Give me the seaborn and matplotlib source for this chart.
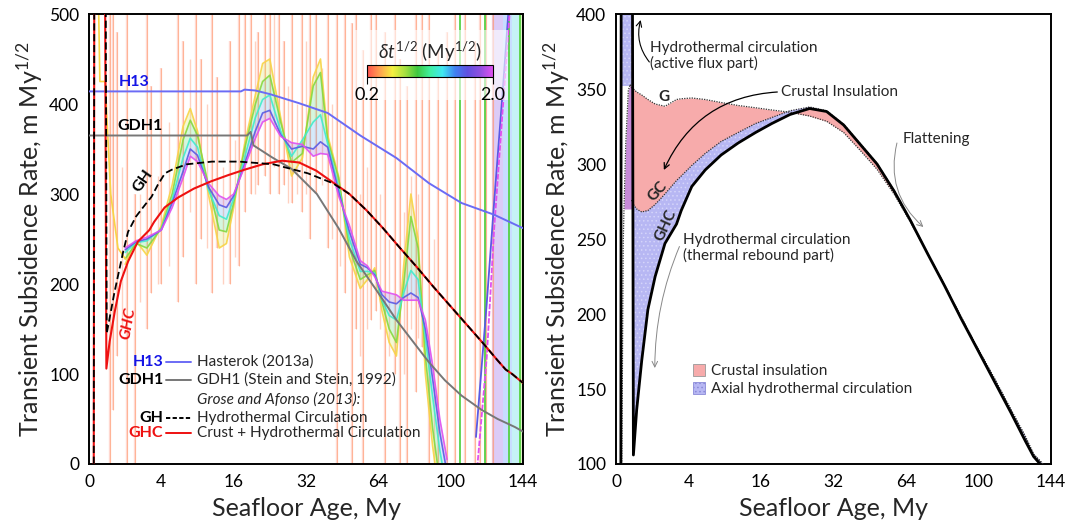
import numpy as np
import matplotlib
matplotlib.use("Agg")
import matplotlib.pyplot as plt
import seaborn as sns
from matplotlib.colors import LinearSegmentedColormap, Normalize
from matplotlib.cm import ScalarMappable
from matplotlib.patches import Patch, Rectangle
from matplotlib.ticker import MultipleLocator, FixedLocator, FixedFormatter

# ---------------------------------------------------------------------------
# Axis: square root of seafloor age (My^1/2); labels show the age in My
# ---------------------------------------------------------------------------
AGE_TICK_POS = [0, 2, 4, 6, 8, 10, 12]
AGE_TICK_LABELS = ["0", "4", "16", "32", "64", "100", "144"]

# ---------------------------------------------------------------------------
# Left panel: reference models
# ---------------------------------------------------------------------------
H13_U = [0.0, 4.2, 4.3, 4.6, 5.0, 5.8, 6.6, 7.5, 8.5, 9.4, 10.3, 11.2, 12.0]
H13_V = [414, 414, 416, 415, 411, 401, 390, 365, 340, 312, 290, 277, 262]

GDH1_U = [0.0, 4.37, 4.47, 4.55, 5.05, 5.6, 6.3, 6.9, 7.4, 8.0, 8.5, 8.92,
          9.4, 9.84, 10.3, 10.86, 11.3, 11.78, 12.0]
GDH1_V = [365, 365, 369, 354, 341, 328, 300, 262, 225, 190, 160, 138,
          113, 93, 76, 60, 50, 41, 36]

GH_U = [0.13, 0.15, 0.45, 0.49, 0.7, 0.94, 1.08, 1.3, 1.55, 1.73, 1.9, 2.1,
        2.29, 2.7, 3.4, 4.15, 5.1, 6.05, 6.74, 7.2, 7.67, 8.13, 8.6, 9.06,
        9.52, 9.98, 10.44, 10.9, 11.3, 11.52, 11.7, 12.0]
GH_V = [-60, 700, 700, 145, 190, 235, 258, 275, 288, 297, 310, 323,
        327, 333, 336, 336, 333, 323, 312, 300, 282, 262, 240, 219,
        197, 176, 155, 134, 115, 105, 100, 90]

# Crust + hydrothermal circulation (GHC), shared by both panels
GHC_EARLY_U = [0.13, 0.15]
GHC_EARLY_V = [-60, 700]
SQRT_AGE = [0.43, 0.48, 0.57, 0.71, 0.88, 1.08, 1.35, 1.67, 1.8, 2.09, 2.46,
            2.9, 3.37, 3.85, 4.3, 4.8, 5.34, 5.81, 6.28, 6.74, 7.2, 7.67,
            8.13, 8.6, 9.06, 9.52, 9.98, 10.44, 10.9, 11.3, 11.52, 11.7, 12.0]
GHC = [700, 106, 136, 169, 203, 225, 247, 260, 269, 285, 296,
       306, 314, 321, 327, 333, 337, 335, 326, 313, 300, 282,
       262, 240, 219, 197, 176, 155, 134, 115, 105, 100, 90]
# Crust only (GC) and plain model (G), right panel
GC = [276, 273, 270, 268, 269, 273, 280, 289, 292, 299, 307,
      315, 321, 327, 331, 335.5, 338, 335.5, 326.5, 313.5, 300.5, 282.5,
      262.5, 240.5, 219.5, 198, 177, 157, 136, 118, 106.5, 102, 94]
G = [351, 350, 348, 346, 343, 340, 338.5, 343, 343.5, 344, 343,
     341, 339, 337.5, 336, 334.5, 332, 328.5, 321, 309, 296.5, 280,
     261, 240, 219.5, 198, 177, 157, 136, 118, 106.5, 102, 94]
RISE_U = [0.16, 0.20, 0.22, 0.27, 0.34, 0.39, 0.43]
RISE_V = [100, 247, 270, 314, 349, 353, 351]
FLUX_V = [352, 420]
FLUX_U = [0.17, 0.43]

# ---------------------------------------------------------------------------
# Left panel: subsidence rate differentiated with step dt^1/2 (My^1/2)
# ---------------------------------------------------------------------------
FAN_U = [1.0, 1.3, 1.6, 2.0, 2.3, 2.6, 2.8, 3.0, 3.3, 3.6, 3.8, 4.0, 4.3, 4.6,
         4.8, 5.0, 5.3, 5.6, 5.9, 6.2, 6.4, 6.6, 6.9, 7.2, 7.5, 7.7, 7.9, 8.1,
         8.3, 8.5, 8.7, 8.9, 9.1, 9.3, 9.5, 9.7, 9.9]
RATE_DT20 = [240, 248, 252, 260, 285, 318, 342, 336, 312, 298, 294, 300, 330,
             362, 380, 384, 364, 357, 355, 342, 345, 344, 298, 265, 226, 220,
             208, 192, 190, 188, 182, 182, 182, 160, 110, 50, 5]
RATE_DT16 = [238, 247, 250, 260, 290, 325, 350, 343, 308, 288, 285, 298, 333,
             370, 390, 393, 366, 350, 353, 350, 358, 352, 303, 258, 222, 218,
             210, 188, 180, 178, 185, 190, 185, 150, 95, 35, -10]
RATE_DT12 = [235, 246, 248, 261, 294, 340, 362, 352, 305, 276, 272, 295, 340,
             385, 405, 410, 370, 342, 360, 380, 388, 356, 308, 250, 214, 214,
             212, 182, 165, 160, 190, 215, 205, 140, 75, 15, -30]
RATE_DT08 = [228, 245, 240, 262, 300, 360, 382, 365, 310, 260, 258, 290, 350,
             400, 425, 432, 380, 335, 345, 420, 435, 360, 318, 240, 205, 210,
             215, 180, 150, 135, 200, 275, 240, 120, 40, -20, -50]
RATE_DT05 = [222, 248, 232, 265, 310, 375, 395, 370, 300, 240, 245, 285, 355,
             410, 445, 450, 385, 320, 340, 430, 450, 365, 320, 230, 195, 205,
             218, 170, 135, 120, 220, 300, 250, 100, 20, -40, -60]
FAN_DT = [2.0, 1.6, 1.2, 0.8, 0.5]

EARLY_U = [0.26, 0.30, 0.45, 0.50, 0.60, 0.80, 1.00]
EARLY_V = [520, 425, 425, 380, 300, 240, 228]

TAIL_U = [10.7, 11.0, 11.2, 11.45, 11.7]
TAIL_DT20 = [-20, 120, 260, 400, 540]
TAIL_DT16 = [30, 180, 290, 420, 560]

# finest steps: spikes (sqrt-age, low, high)
SPIKE_U = [0.58, 0.66, 0.77, 1.05, 1.27, 1.6, 1.72, 2.0, 2.45, 2.6,
           2.97, 3.1, 3.4, 3.55, 3.9, 4.15, 4.3, 4.48, 4.66, 4.86,
           5.0, 5.25, 5.4, 5.6, 5.88, 6.1, 6.28, 6.6, 6.85, 7.08,
           7.26, 7.38, 7.58, 7.8, 7.94, 8.18, 8.46, 8.6, 8.78, 9.03,
           9.2, 9.4, 9.65, 9.9, 10.12, 10.4, 10.67, 10.8, 10.99, 11.17]
SPIKE_LO = [0, 60, 120, 0, 0, 150, 190, 200, 180, 230,
            200, 250, 190, 240, 200, 220, 280, 300, 310, 320,
            300, 300, 310, 290, 280, 250, 300, 240, 0, 190,
            0, 150, 0, 160, 170, 0, 100, 0, 0, 80,
            130, 0, 0, 0, 0, 0, 0, 0, 0, 0]
SPIKE_HI = [520, 520, 480, 520, 300, 520, 420, 440, 520, 470,
            520, 450, 520, 430, 470, 520, 520, 520, 480, 520,
            520, 520, 470, 520, 520, 520, 520, 520, 520, 520,
            490, 520, 460, 520, 520, 480, 520, 450, 420, 520,
            520, 520, 460, 480, 520, 520, 470, 520, 520, 520]
SPIKE2_U = [0.9, 1.4, 1.9, 2.2, 2.8, 3.25, 3.7, 4.05, 4.58, 5.12, 5.5, 5.75,
            6.0, 6.45, 6.72, 6.95, 7.5, 7.7, 8.05, 8.3, 8.7, 8.9, 9.1, 9.55]
SPIKE2_LO = [150, 180, 200, 220, 280, 240, 200, 230, 300, 330, 290, 300,
             300, 310, 250, 220, 120, 150, 150, 120, 100, 150, 140, 0]
SPIKE2_HI = [330, 300, 320, 380, 450, 400, 330, 360, 470, 500, 420, 400,
             470, 440, 400, 380, 300, 330, 300, 250, 280, 320, 300, 250]
GREEN_SPIKE_U = [10.27, 10.95, 11.62, 11.92]
BAND_LO = [11.15, 11.45, 11.7, 11.88]
BAND_HI = [11.45, 11.7, 11.88, 12.0]

# ---------------------------------------------------------------------------
# Style
# ---------------------------------------------------------------------------
sns.set_style("white")
plt.rcParams.update({
    "font.family": ["Lato", "DejaVu Sans"],
    "mathtext.fontset": "custom",
    "mathtext.rm": "Lato",
    "mathtext.it": "Lato:italic",
    "mathtext.bf": "Lato:bold",
    "axes.edgecolor": "black",
    "axes.linewidth": 1.4,
    "xtick.color": "black",
    "ytick.color": "black",
    "hatch.linewidth": 0.6,
})

rainbow = LinearSegmentedColormap.from_list(
    "dt_rainbow",
    ["#ff4f4f", "#ffa050", "#f4f040", "#a8e040", "#40c840", "#40f0a0",
     "#40e8f0", "#4080f0", "#6050e0", "#9050e0", "#e050f0"])
dt_norm = Normalize(0.2, 2.0)

PINK = "#f7abab"
LAVENDER = "#b7b7f3"
PURPLE_FILL = "#c78ad8"
SMALL = 11

fig = plt.figure(figsize=(10.69, 5.32), dpi=100)
ax1 = fig.add_axes([0.08326, 0.12782, 0.40599, 0.84586])
ax2 = fig.add_axes([0.57624, 0.12782, 0.40692, 0.84586])


def style_axes(ax, ylim, ymajor, yminor):
    ax.set_xlim(0, 12)
    ax.set_ylim(*ylim)
    ax.xaxis.set_major_locator(FixedLocator(AGE_TICK_POS))
    ax.xaxis.set_major_formatter(FixedFormatter(AGE_TICK_LABELS))
    ax.xaxis.set_minor_locator(MultipleLocator(0.5))
    ax.yaxis.set_major_locator(MultipleLocator(ymajor))
    ax.yaxis.set_minor_locator(MultipleLocator(yminor))
    ax.tick_params(which="both", direction="in", top=False, right=False,
                   width=0.9, labelsize=12.5)
    ax.tick_params(which="major", length=3.5, pad=7)
    ax.tick_params(which="minor", length=3)
    ax.set_xlabel("Seafloor Age, My", fontsize=18, labelpad=5)
    ax.set_ylabel(r"Transient Subsidence Rate, m My$^{1/2}$", fontsize=18,
                  labelpad=3)
    for s in ax.spines.values():
        s.set_visible(True)
        s.set_linewidth(1.4)


# ============================ left panel ==================================
ax = ax1
style_axes(ax, (0, 500), 100, 50)

for lo, hi, c in zip(BAND_LO, BAND_HI,
                     ["#dccbf7", "#c8ddff", "#c6f2f6", "#def6c6"]):
    ax.axvspan(lo, hi, color=c, lw=0, zorder=0.5)

ax.vlines(SPIKE_U, SPIKE_LO, SPIKE_HI, color="#ffb3a3", lw=1.7, alpha=0.5,
          zorder=1)
ax.vlines(SPIKE_U, SPIKE_LO, SPIKE_HI, color="#ff8a55", lw=0.6, alpha=0.55,
          zorder=1.1)
ax.vlines(SPIKE2_U, SPIKE2_LO, SPIKE2_HI, color="#ffa585", lw=1.0, alpha=0.5,
          zorder=1.05)
ax.vlines(GREEN_SPIKE_U, -10, 520, color="#52d040", lw=1.4, alpha=0.9,
          zorder=1.2)

fan = [RATE_DT20, RATE_DT16, RATE_DT12, RATE_DT08, RATE_DT05]
for i in range(len(fan) - 1):
    mid = 0.5 * (FAN_DT[i] + FAN_DT[i + 1])
    ax.fill_between(FAN_U, fan[i], fan[i + 1], color=rainbow(dt_norm(mid)),
                    alpha=0.22, lw=0, zorder=1.5)
for dt, vals in zip(FAN_DT[::-1], fan[::-1]):
    sns.lineplot(x=FAN_U, y=vals, ax=ax, color=rainbow(dt_norm(dt)), lw=1.2,
                 alpha=0.9, sort=False, estimator=None, zorder=2)
sns.lineplot(x=EARLY_U, y=EARLY_V, ax=ax, color=rainbow(dt_norm(0.5)), lw=1.2,
             sort=False, estimator=None, zorder=2)
sns.lineplot(x=TAIL_U, y=TAIL_DT16, ax=ax, color=rainbow(dt_norm(1.6)), lw=1.3,
             sort=False, estimator=None, zorder=2)
sns.lineplot(x=TAIL_U, y=TAIL_DT20, ax=ax, color=rainbow(dt_norm(2.0)), lw=1.3,
             sort=False, estimator=None, zorder=2, linestyle=(0, (3, 1)))

# models
sns.lineplot(x=H13_U, y=H13_V, ax=ax, color="#6b6bf5", lw=1.4, sort=False,
             estimator=None, zorder=5)
sns.lineplot(x=GDH1_U, y=GDH1_V, ax=ax, color="#777777", lw=1.4, sort=False,
             estimator=None, zorder=5)
sns.lineplot(x=GHC_EARLY_U + SQRT_AGE, y=GHC_EARLY_V + GHC, ax=ax,
             color="#ee1111", lw=1.5, sort=False, estimator=None, zorder=5)
sns.lineplot(x=GH_U, y=GH_V, ax=ax, color="black", lw=1.3, sort=False,
             estimator=None, zorder=6, linestyle=(0, (4, 2)))

# curve labels
ax.text(1.25, 425, "H13", color="#1515e6", fontsize=11.5, fontweight="bold",
        ha="center", va="center", zorder=7)
ax.text(1.41, 376, "GDH1", color="black", fontsize=11.5, fontweight="bold",
        ha="center", va="center", zorder=7)
ax.text(1.5, 314, "GH", color="black", fontsize=11.5, fontweight="bold",
        ha="center", va="center", rotation=55, zorder=7)
ax.text(1.09, 156, "GHC", color="#ee1111", fontsize=11.5, fontweight="bold",
        style="italic", ha="center", va="center", rotation=80, zorder=7)

# legend block
rows = [
    (0.2267, "H13", "#1515e6", "#6b6bf5", "-", "Hasterok (2013a)"),
    (0.1867, "GDH1", "black", "#777777", "-", "GDH1 (Stein and Stein, 1992)"),
    (0.1029, "GH", "black", "black", (0, (2.2, 1.2)), "Hydrothermal Circulation"),
    (0.0682, "GHC", "#ee1111", "#ee1111", "-",
     "Crust + Hydrothermal Circulation"),
]
for ya, tag, tagc, linec, ls, desc in rows:
    ax.text(0.171, ya, tag, color=tagc, fontsize=11.5, fontweight="bold",
            ha="right", va="center", transform=ax.transAxes, zorder=8)
    ax.plot([0.178, 0.234], [ya, ya], color=linec, lw=1.4, ls=ls,
            transform=ax.transAxes, zorder=8)
    ax.text(0.249, ya, desc, fontsize=SMALL, ha="left", va="center",
            transform=ax.transAxes, zorder=8)
ax.text(0.249, 0.1422, "Grose and Afonso (2013):", fontsize=SMALL,
        style="italic", ha="left", va="center", transform=ax.transAxes,
        zorder=8)

# colour scale for the differentiation step
ax.add_patch(Rectangle((0.613, 0.809), 0.3525, 0.156, transform=ax.transAxes,
                       facecolor="white", alpha=0.6, lw=0, zorder=4))
cax = fig.add_axes([0.3433, 0.8553, 0.1179, 0.0226])
cb = fig.colorbar(ScalarMappable(norm=dt_norm, cmap=rainbow), cax=cax,
                  orientation="horizontal", ticks=[0.2, 2.0])
cb.set_ticklabels(["0.2", "2.0"])
cb.outline.set_linewidth(0.8)
cax.tick_params(direction="out", length=5, width=0.8, labelsize=13, pad=2)
cax.text(0.5, 1.1, r"$\delta t^{1/2}$ (My$^{1/2}$)", transform=cax.transAxes,
         ha="center", va="bottom", fontsize=13.5)

# ============================ right panel =================================
ax = ax2
style_axes(ax, (100, 400), 50, 10)

ax.fill_between(SQRT_AGE, G, GC, color=PINK, lw=0, zorder=1)
ax.fill_between(SQRT_AGE, GC, GHC, where=np.array(GC) >= np.array(GHC),
                interpolate=True, facecolor=LAVENDER, edgecolor="#d4d4fa",
                hatch="....", lw=0, zorder=1.2)
ax.fill_betweenx(FLUX_V, FLUX_U[0], FLUX_U[1], facecolor=LAVENDER,
                 edgecolor="#d4d4fa", hatch="....", lw=0, zorder=1.2)
ax.fill_betweenx(RISE_V[2:], RISE_U[2:], FLUX_U[1], color=PURPLE_FILL, lw=0,
                 zorder=1.3)

sns.lineplot(x=SQRT_AGE, y=G, ax=ax, color="#333333", lw=0.9, sort=False,
             estimator=None, linestyle=(0, (1, 1)), zorder=3)
sns.lineplot(x=SQRT_AGE, y=GC, ax=ax, color="#333333", lw=0.9, sort=False,
             estimator=None, linestyle=(0, (1, 1)), zorder=3)
sns.lineplot(x=RISE_U, y=RISE_V, ax=ax, color="#333333", lw=0.9, sort=False,
             estimator=None, linestyle=(0, (1, 1)), zorder=3)
sns.lineplot(x=GHC_EARLY_U + SQRT_AGE, y=GHC_EARLY_V + GHC, ax=ax,
             color="black", lw=2.0, sort=False, estimator=None, zorder=4)

ax.text(1.32, 345, "G", fontsize=SMALL, fontweight="bold", ha="center",
        va="center", zorder=6)
ax.text(1.15, 282, "GC", fontsize=SMALL, fontweight="bold", ha="center",
        va="center", rotation=48, zorder=6)
ax.text(1.38, 259, "GHC", fontsize=SMALL, fontweight="bold", ha="center",
        va="center", rotation=65, zorder=6)

ax.text(0.95, 372, "Hydrothermal circulation\n(active flux part)",
        fontsize=SMALL, ha="left", va="center", linespacing=1.05, zorder=6)
ax.annotate("", xy=(0.68, 396), xytext=(0.92, 368),
            arrowprops=dict(arrowstyle="->", color="black", lw=0.8,
                            shrinkA=0, shrinkB=0,
                            connectionstyle="arc3,rad=-0.25"), zorder=6)
ax.text(4.55, 348, "Crustal Insulation", fontsize=SMALL, ha="left",
        va="center", zorder=6)
ax.annotate("", xy=(1.32, 296), xytext=(4.45, 348),
            arrowprops=dict(arrowstyle="->", color="black", lw=0.9,
                            shrinkA=0, shrinkB=0,
                            connectionstyle="arc3,rad=0.3"), zorder=6)
ax.text(7.9, 317, "Flattening", fontsize=SMALL, ha="left", va="center",
        zorder=6)
ax.annotate("", xy=(8.48, 258), xytext=(7.75, 314),
            arrowprops=dict(arrowstyle="->", color="#888888", lw=0.7,
                            shrinkA=0, shrinkB=0,
                            connectionstyle="arc3,rad=0.3"), zorder=6)
ax.text(1.85, 244, "Hydrothermal circulation\n(thermal rebound part)",
        fontsize=SMALL, ha="left", va="center", linespacing=1.05, zorder=6)
ax.annotate("", xy=(1.07, 164), xytext=(1.75, 245),
            arrowprops=dict(arrowstyle="->", color="#888888", lw=0.7,
                            shrinkA=0, shrinkB=0,
                            connectionstyle="arc3,rad=0.1"), zorder=6)

handles = [
    Patch(facecolor=PINK, edgecolor="#999999", lw=0.6,
          label="Crustal insulation"),
    Patch(facecolor=LAVENDER, edgecolor="#8a8ad8", hatch="....", lw=0.6,
          label="Axial hydrothermal circulation"),
]
ax.legend(handles=handles, loc="upper left", bbox_to_anchor=(0.176, 0.222),
          frameon=False, fontsize=SMALL, handlelength=0.8, handleheight=0.8,
          handletextpad=0.4, labelspacing=0.25, borderpad=0,
          borderaxespad=0)

fig.savefig("out.png", dpi=100)
